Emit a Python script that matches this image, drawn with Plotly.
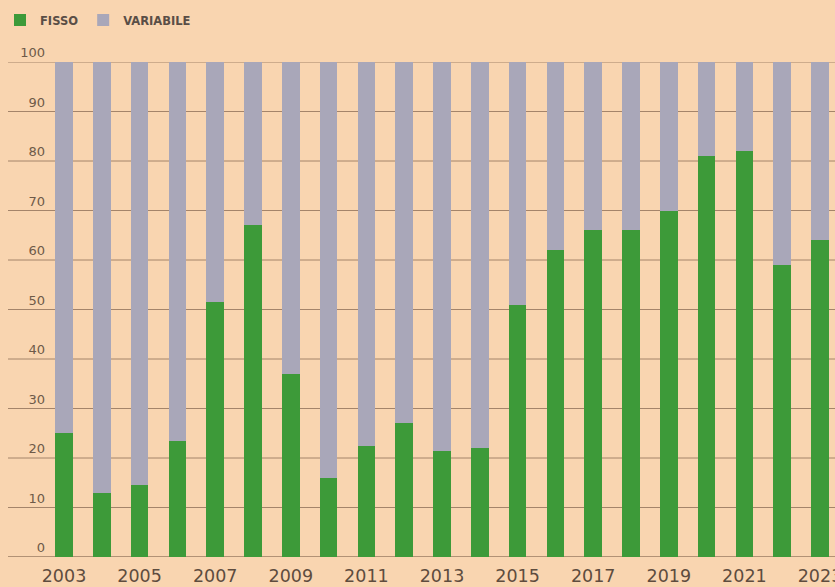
import plotly.graph_objects as go

years = list(range(2003, 2024))
fisso = [25, 13, 14.5, 23.5, 51.5, 67, 37, 16, 22.5, 27, 21.5, 22, 51, 62, 66, 66, 70, 81, 82, 59, 64]
variabile = [round(100 - f, 1) for f in fisso]
y_ticks = [0, 10, 20, 30, 40, 50, 60, 70, 80, 90, 100]
x_ticks = list(range(2003, 2024, 2))

BG = "#f9d5b0"
GREEN = "#3d9a39"
GREY = "#a9a7b9"
GRID = "#9a7b62"
TXT = "#5e4c3e"

fig = go.Figure()
fig.add_trace(go.Bar(x=years, y=fisso, name="FISSO", marker=dict(color=GREEN, line=dict(width=0))))
fig.add_trace(go.Bar(x=years, y=variabile, name="VARIABILE", marker=dict(color=GREY, line=dict(width=0))))

for v in y_ticks:
    fig.add_shape(type="line", xref="paper", yref="y", x0=-40/787, x1=1, y0=v, y1=v,
                  line=dict(color=GRID, width=1.4 if v == 0 else 0.9), layer="below")

fig.update_layout(
    width=835, height=587,
    barmode="stack", bargap=0.53,
    paper_bgcolor=BG, plot_bgcolor=BG,
    margin=dict(l=48, r=0, t=62, b=30, autoexpand=False),
    font=dict(family="DejaVu Sans", color=TXT),
    showlegend=True,
    legend=dict(orientation="h", x=0.0, xref="container", y=1 - 20/587, yref="container",
                xanchor="left", yanchor="middle",
                font=dict(family="DejaVu Sans", size=11.5, color="#5a4e46", weight="bold"),
                bgcolor="rgba(0,0,0,0)", itemsizing="constant", traceorder="normal",
                tracegroupgap=0),
    xaxis=dict(range=[2002.577, 2023.397], tickmode="array", tickvals=x_ticks,
               ticktext=[str(t) for t in x_ticks], showgrid=False, zeroline=False,
               showline=False, ticks="", tickfont=dict(size=17.5, color=TXT),
               ticklabelstandoff=6, ticklabeloverflow="allow", automargin=False),
    yaxis=dict(range=[0, 100], tickmode="array", tickvals=y_ticks,
               ticktext=[str(t) for t in y_ticks], showgrid=False, zeroline=False,
               showline=False, ticks="", ticklabelposition="outside top",
               tickfont=dict(size=13, color="#6e5a48"), ticklabelstandoff=2,
               automargin=False),
)

fig.write_html("out.html")
